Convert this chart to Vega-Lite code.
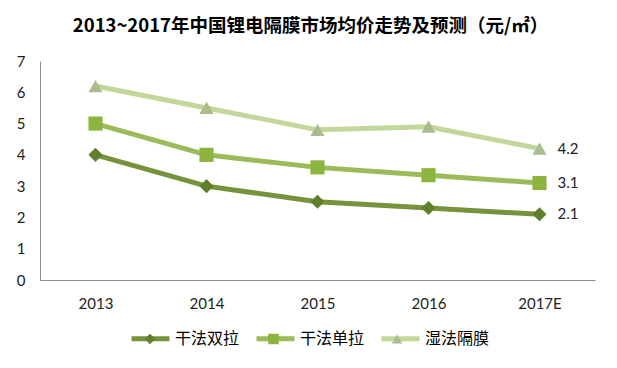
{
  "$schema": "https://vega.github.io/schema/vega-lite/v6.json",
  "width": 555,
  "height": 219,
  "autosize": "none",
  "padding": {"left": 40, "top": 61, "right": 22, "bottom": 88},
  "background": "white",
  "title": {
    "text": "2013~2017年中国锂电隔膜市场均价走势及预测（元/㎡）",
    "font": "Noto Sans CJK SC",
    "fontSize": 18.5,
    "fontWeight": "bold",
    "color": "#000000",
    "anchor": "middle",
    "dx": -7,
    "offset": 19
  },
  "data": {
    "values": [
      {"year": "2013", "series": "干法双拉", "value": 4.0},
      {"year": "2014", "series": "干法双拉", "value": 3.0},
      {"year": "2015", "series": "干法双拉", "value": 2.5},
      {"year": "2016", "series": "干法双拉", "value": 2.3},
      {"year": "2017E", "series": "干法双拉", "value": 2.1},
      {"year": "2013", "series": "干法单拉", "value": 5.0},
      {"year": "2014", "series": "干法单拉", "value": 4.0},
      {"year": "2015", "series": "干法单拉", "value": 3.6},
      {"year": "2016", "series": "干法单拉", "value": 3.35},
      {"year": "2017E", "series": "干法单拉", "value": 3.1},
      {"year": "2013", "series": "湿法隔膜", "value": 6.2},
      {"year": "2014", "series": "湿法隔膜", "value": 5.5},
      {"year": "2015", "series": "湿法隔膜", "value": 4.8},
      {"year": "2016", "series": "湿法隔膜", "value": 4.9},
      {"year": "2017E", "series": "湿法隔膜", "value": 4.2}
    ]
  },
  "encoding": {
    "x": {
      "field": "year",
      "type": "ordinal",
      "sort": null,
      "scale": {"type": "point", "padding": 0.5},
      "axis": {
        "title": null,
        "labelAngle": 0,
        "ticks": false,
        "grid": false,
        "domainColor": "#8c8c8c",
        "labelFont": "Lato",
        "labelFontSize": 15,
        "labelColor": "#222222",
        "labelPadding": 16
      }
    },
    "y": {
      "field": "value",
      "type": "quantitative",
      "scale": {"domain": [0, 7], "nice": false},
      "axis": {
        "title": null,
        "values": [0, 1, 2, 3, 4, 5, 6, 7],
        "labelOverlap": false,
        "labelFlush": false,
        "ticks": false,
        "grid": false,
        "domainColor": "#8c8c8c",
        "labelFont": "Lato",
        "labelFontSize": 15,
        "labelColor": "#222222",
        "labelPadding": 15
      }
    }
  },
  "layer": [
    {
      "mark": {"type": "line", "strokeWidth": 5},
      "encoding": {
        "color": {
          "field": "series",
          "type": "nominal",
          "sort": ["干法双拉", "干法单拉", "湿法隔膜"],
          "scale": {
            "domain": ["干法双拉", "干法单拉", "湿法隔膜"],
            "range": ["#76933C", "#9BBB59", "#C4D79B"]
          },
          "legend": {
            "title": null,
            "orient": "none",
            "legendX": 89,
            "legendY": 256,
            "direction": "horizontal",
            "symbolType": "stroke",
            "symbolSize": 1444,
            "symbolStrokeWidth": 5,
            "labelFont": "Noto Sans CJK SC",
            "labelFontSize": 16,
            "labelColor": "#000000",
            "labelOffset": 3,
            "columnPadding": 6
          }
        }
      }
    },
    {
      "mark": {"type": "point", "filled": true, "opacity": 1},
      "encoding": {
        "shape": {
          "field": "series",
          "type": "nominal",
          "sort": ["干法双拉", "干法单拉", "湿法隔膜"],
          "scale": {
            "domain": ["干法双拉", "干法单拉", "湿法隔膜"],
            "range": ["diamond", "square", "triangle-up"]
          },
          "legend": null
        },
        "color": {
          "field": "series",
          "type": "nominal",
          "sort": ["干法双拉", "干法单拉", "湿法隔膜"],
          "scale": {
            "domain": ["干法双拉", "干法单拉", "湿法隔膜"],
            "range": ["#5F7F2A", "#8DB43E", "#A9BC8E"]
          },
          "legend": {
            "title": null,
            "orient": "none",
            "legendX": 89,
            "legendY": 270,
            "direction": "horizontal",
            "symbolSize": 110,
            "symbolOffset": 13,
            "symbolOpacity": 1,
            "labelExpr": "''",
            "labelFontSize": 16,
            "labelOffset": 0,
            "columnPadding": 94.5,
            "encode": {
              "symbols": {
                "update": {
                  "shape": {"signal": "datum.label === '干法双拉' || datum.value === '干法双拉' ? 'diamond' : (datum.label === '干法单拉' || datum.value === '干法单拉') ? 'square' : 'triangle-up'"}
                }
              }
            }
          }
        },
        "size": {"value": 200}
      }
    },
    {
      "transform": [{"filter": "datum.year === '2017E'"}],
      "mark": {"type": "text", "align": "left", "dx": 18, "font": "Lato", "fontSize": 15},
      "encoding": {
        "text": {"field": "value", "type": "quantitative", "format": ".1f"},
        "color": {"value": "#222222"}
      }
    }
  ],
  "resolve": {"scale": {"color": "independent"}, "legend": {"color": "independent"}},
  "config": {"view": {"stroke": null}}
}
